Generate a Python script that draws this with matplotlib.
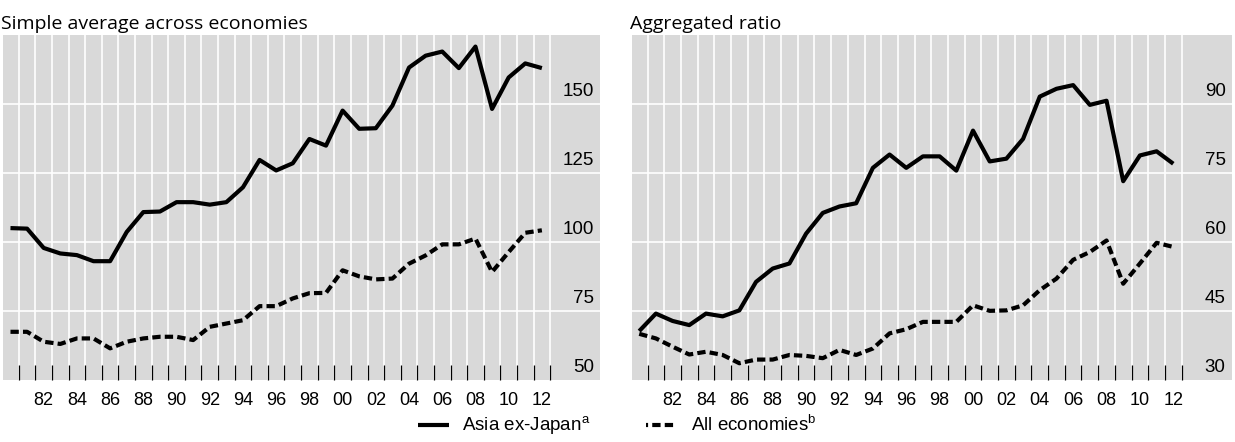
import numpy as np
import matplotlib
matplotlib.use("Agg")
import matplotlib.pyplot as plt
from matplotlib.lines import Line2D
from matplotlib.transforms import offset_copy

plt.rcParams['font.family'] = ['Liberation Sans', 'DejaVu Sans']
plt.rcParams['mathtext.fontset'] = 'custom'
plt.rcParams['mathtext.rm'] = 'Liberation Sans'

# data
years = np.arange(1980, 2013)

# left panel: simple average across economies
asia_avg = [105.0, 104.8, 97.8, 95.8, 95.2, 93.0, 93.0, 103.6, 110.8, 111.0,
            114.4, 114.4, 113.5, 114.4, 119.8, 129.7, 125.9, 128.5, 137.3, 134.9,
            147.6, 141.0, 141.2, 149.4, 163.2, 167.5, 169.0, 163.0, 170.8, 148.2,
            159.6, 164.7, 163.0]
all_avg = [67.4, 67.4, 63.8, 63.0, 65.0, 65.0, 61.4, 63.8, 65.0, 65.6,
           65.6, 64.4, 69.2, 70.4, 71.6, 76.7, 76.7, 79.5, 81.4, 81.5,
           89.7, 87.5, 86.4, 86.7, 92.1, 95.1, 99.1, 99.1, 101.2, 89.1,
           96.3, 103.3, 104.2]

# right panel: aggregated ratio
asia_agg = [40.6, 44.4, 42.8, 41.9, 44.4, 43.8, 45.1, 51.3, 54.2, 55.3,
            61.8, 66.3, 67.7, 68.4, 76.1, 79.0, 76.1, 78.6, 78.6, 75.5,
            84.2, 77.5, 78.1, 82.4, 91.6, 93.3, 94.1, 89.8, 90.7, 73.2,
            78.8, 79.7, 77.0]
all_agg = [40.0, 39.0, 37.2, 35.5, 36.1, 35.4, 33.6, 34.4, 34.4, 35.4,
           35.2, 34.7, 36.5, 35.4, 36.8, 40.1, 41.0, 42.6, 42.6, 42.6,
           46.2, 45.0, 45.1, 46.2, 49.5, 52.0, 56.1, 57.8, 60.3, 50.9,
           55.3, 59.8, 58.9]

left_ticks = [50, 75, 100, 125, 150]
right_ticks = [30, 45, 60, 75, 90]
label_years = np.arange(1982, 2013, 2)
label_text = [f"{y % 100:02d}" for y in label_years]

titles = ["Simple average across economies", "Aggregated ratio"]
series_names = ["Asia ex-Japan$^{\\mathrm{a}}$", "All economies$^{\\mathrm{b}}$"]

fig = plt.figure(figsize=(12.35, 4.42), dpi=100)
W, H = 1235, 442
ax1 = fig.add_axes([3 / W, 1 - 379.8 / H, 597 / W, 344.8 / H])
ax2 = fig.add_axes([631.7 / W, 1 - 379.8 / H, 600 / W, 344.8 / H])

dash = (0, (2, 1))
panels = [(ax1, asia_avg, all_avg, left_ticks, (50, 175)),
          (ax2, asia_agg, all_agg, right_ticks, (30, 105))]

for ax, solid, dashed, yt, ylim in panels:
    ax.set_facecolor('#d9d9d9')
    ax.plot(years, solid, color='black', lw=3, solid_capstyle='butt', zorder=3)
    ax.plot(years, dashed, color='black', lw=3, linestyle=dash,
            dash_capstyle='butt', zorder=3)
    ax.set_xlim(1979.55, 2015.5)
    ax.set_ylim(*ylim)
    for s in ax.spines.values():
        s.set_visible(False)

    # year boundaries: white grid + short black ticks inside
    ax.set_xticks(np.arange(1980.5, 2013, 1), minor=True)
    ax.set_xticks(label_years)
    ax.set_xticklabels(label_text)
    ax.tick_params(axis='x', which='major', length=0, pad=8.5, labelsize=13)
    ax.tick_params(axis='x', which='minor', direction='in', length=11,
                   width=0.9, color='black')
    ax.grid(which='minor', axis='x', color='white', lw=1.2)

    ax.set_yticks(yt[1:])
    ax.tick_params(axis='y', length=0, labelleft=False)
    ax.grid(which='major', axis='y', color='white', lw=1.2)
    ax.set_axisbelow(True)

    trans = offset_copy(ax.get_yaxis_transform(), fig=fig, x=-3, y=3.5, units='dots')
    for v in yt:
        ax.text(0.995, v, str(v), transform=trans, ha='right', va='bottom',
                fontsize=13.5)

for ax, t in zip([ax1, ax2], titles):
    ax.set_title(t, loc='left', fontsize=14, pad=4,
                 family=['Open Sans', 'DejaVu Sans'], x=-0.003)

handles = [Line2D([], [], color='black', lw=3, solid_capstyle='butt'),
           Line2D([], [], color='black', lw=3, linestyle=(1.5, (2, 1)),
                  dash_capstyle='butt')]
fig.legend(handles, series_names, loc='center', ncol=2,
           bbox_to_anchor=(617 / W, 1 - 426 / H), frameon=False, fontsize=13.5,
           handlelength=1.65, handletextpad=0.7, columnspacing=3.0)

fig.savefig('out.png', dpi=100)
